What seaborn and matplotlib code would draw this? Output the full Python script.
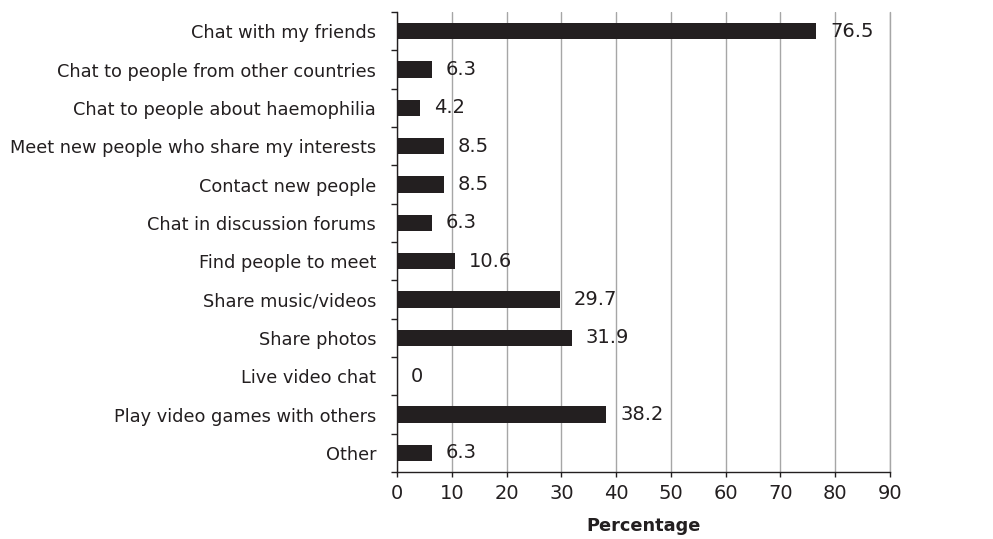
import matplotlib
matplotlib.use("Agg")
import matplotlib.pyplot as plt
import seaborn as sns
import pandas as pd
from matplotlib.ticker import FixedLocator, NullFormatter

activities = [
    "Chat with my friends",
    "Chat to people from other countries",
    "Chat to people about haemophilia",
    "Meet new people who share my interests",
    "Contact new people",
    "Chat in discussion forums",
    "Find people to meet",
    "Share music/videos",
    "Share photos",
    "Live video chat",
    "Play video games with others",
    "Other",
]
percentages = [76.5, 6.3, 4.2, 8.5, 8.5, 6.3, 10.6, 29.7, 31.9, 0, 38.2, 6.3]
x_ticks = [0, 10, 20, 30, 40, 50, 60, 70, 80, 90]

df = pd.DataFrame({"activity": activities, "pct": percentages})

sns.set_theme(style="white")
plt.rcParams["font.family"] = ["DejaVu Sans"]

ink = "#231f20"
grid_grey = "#a6a6a6"

fig = plt.figure(figsize=(9.93, 5.39), dpi=100)
ax = fig.add_axes([0.3998, 0.1243, 0.4965, 0.8534])

sns.barplot(data=df, x="pct", y="activity", orient="h", color=ink,
            saturation=1, width=0.43, linewidth=0, ax=ax)

ax.set_xlim(0, 90)
ax.set_ylim(len(activities) - 0.5, -0.5)
ax.set_xticks(x_ticks)
ax.set_xticklabels([str(t) for t in x_ticks], fontsize=14, color=ink)
ax.xaxis.grid(True, color=grid_grey, linewidth=1.0)
ax.axvline(90, color=grid_grey, linewidth=1.0, clip_on=False, zorder=0)
ax.yaxis.grid(False)
ax.set_axisbelow(True)

# category ticks sit between bars
ax.tick_params(axis="y", which="major", length=0, labelsize=12.8, labelcolor=ink, pad=15)
ax.yaxis.set_minor_locator(FixedLocator([i - 0.5 for i in range(len(activities) + 1)]))
ax.yaxis.set_minor_formatter(NullFormatter())
ax.tick_params(axis="y", which="minor", length=4.5, width=1, color=ink, left=True)
ax.tick_params(axis="x", which="major", length=3.5, width=1, color=ink, bottom=True, pad=5)

for side in ["top", "right"]:
    ax.spines[side].set_visible(False)
for side in ["left", "bottom"]:
    ax.spines[side].set_color(ink)
    ax.spines[side].set_linewidth(1.0)

ax.set_ylabel("")
ax.set_xlabel("Percentage", fontsize=12.8, fontweight="bold", color=ink, labelpad=10)

for i, v in enumerate(percentages):
    ax.annotate(f"{v:g}", xy=(v, i), xytext=(10, 0), textcoords="offset points",
                va="center", ha="left", fontsize=14, color=ink)

fig.savefig("out.png", dpi=100)
